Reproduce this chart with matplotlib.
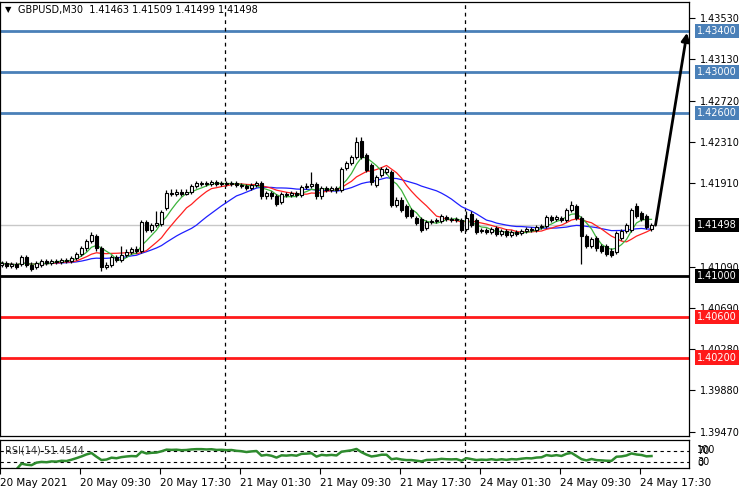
import numpy as np
import pandas as pd
import matplotlib as mpl
mpl.use('Agg')
import matplotlib.pyplot as plt
import matplotlib.transforms as mtransforms

# GBPUSD M30 bars, 20 May 01:30 -> 24 May 18:30
opens = [1.4111, 1.4113, 1.4110, 1.4112, 1.4112, 1.4119, 1.4111, 1.4109, 1.4111, 1.4115,
         1.4113, 1.4115, 1.4114, 1.4116, 1.4115, 1.4118, 1.4122, 1.4127, 1.4134, 1.4139,
         1.4127, 1.4109, 1.4111, 1.4119, 1.4116, 1.4121, 1.4124, 1.4126, 1.4125, 1.4153,
         1.4145, 1.4150, 1.4151, 1.4167, 1.4181, 1.4180, 1.4182, 1.4180, 1.4182, 1.4188,
         1.4190, 1.4191, 1.4190, 1.4192, 1.4190, 1.4191, 1.4190, 1.4191, 1.4189, 1.4188,
         1.4186, 1.4189, 1.4191, 1.4178, 1.4181, 1.4178, 1.4173, 1.4180, 1.4179, 1.4181,
         1.4179, 1.4187, 1.4188, 1.4190, 1.4178, 1.4186, 1.4184, 1.4186, 1.4184, 1.4206,
         1.4211, 1.4217, 1.4232, 1.4219, 1.4209, 1.4189, 1.4199, 1.4202, 1.4202, 1.4170,
         1.4175, 1.4169, 1.4165, 1.4157, 1.4156, 1.4147, 1.4153, 1.4154, 1.4154, 1.4158,
         1.4156, 1.4155, 1.4155, 1.4146, 1.4161, 1.4155, 1.4144, 1.4145, 1.4143, 1.4147,
         1.4141, 1.4144, 1.4140, 1.4143, 1.4142, 1.4144, 1.4146, 1.4145, 1.4148, 1.4149,
         1.4158, 1.4156, 1.4157, 1.4155, 1.4165, 1.4169, 1.4157, 1.4139, 1.4129, 1.4137,
         1.4129, 1.4129, 1.4125, 1.4124, 1.4137, 1.4144, 1.4145, 1.4169, 1.4162, 1.4159,
         1.4146]
highs = [1.4115, 1.4115, 1.4114, 1.4114, 1.4121, 1.4121, 1.4114, 1.4115, 1.4117, 1.4117,
         1.4117, 1.4117, 1.4118, 1.4118, 1.4120, 1.4124, 1.4129, 1.4136, 1.4143, 1.4141,
         1.4129, 1.4114, 1.4121, 1.4121, 1.4129, 1.4126, 1.4128, 1.4129, 1.4155, 1.4155,
         1.4152, 1.4164, 1.4165, 1.4184, 1.4185, 1.4185, 1.4185, 1.4185, 1.4190, 1.4193,
         1.4193, 1.4193, 1.4194, 1.4194, 1.4193, 1.4193, 1.4193, 1.4193, 1.4191, 1.4190,
         1.4191, 1.4193, 1.4193, 1.4183, 1.4183, 1.4180, 1.4182, 1.4182, 1.4183, 1.4183,
         1.4189, 1.4191, 1.4202, 1.4192, 1.4188, 1.4188, 1.4188, 1.4188, 1.4207, 1.4213,
         1.4219, 1.4236, 1.4236, 1.4221, 1.4211, 1.4199, 1.4207, 1.4207, 1.4204, 1.4177,
         1.4177, 1.4171, 1.4167, 1.4159, 1.4158, 1.4155, 1.4156, 1.4157, 1.4161, 1.4160,
         1.4158, 1.4158, 1.4157, 1.4164, 1.4164, 1.4157, 1.4147, 1.4147, 1.4148, 1.4149,
         1.4146, 1.4146, 1.4145, 1.4145, 1.4146, 1.4148, 1.4148, 1.4150, 1.4151, 1.4160,
         1.4160, 1.4160, 1.4159, 1.4167, 1.4174, 1.4171, 1.4159, 1.4141, 1.4138, 1.4139,
         1.4131, 1.4131, 1.4127, 1.4144, 1.4146, 1.4152, 1.4167, 1.4172, 1.4164, 1.4161,
         1.4152]
lows = [1.4109, 1.4108, 1.4108, 1.4107, 1.4110, 1.4109, 1.4105, 1.4107, 1.4109, 1.4111,
        1.4111, 1.4112, 1.4112, 1.4113, 1.4113, 1.4116, 1.4120, 1.4125, 1.4132, 1.4125,
        1.4105, 1.4107, 1.4109, 1.4114, 1.4114, 1.4119, 1.4122, 1.4123, 1.4123, 1.4143,
        1.4143, 1.4148, 1.4149, 1.4165, 1.4178, 1.4178, 1.4178, 1.4179, 1.4180, 1.4186,
        1.4188, 1.4188, 1.4188, 1.4188, 1.4188, 1.4188, 1.4188, 1.4187, 1.4186, 1.4184,
        1.4184, 1.4187, 1.4176, 1.4176, 1.4176, 1.4169, 1.4171, 1.4177, 1.4177, 1.4177,
        1.4177, 1.4185, 1.4186, 1.4176, 1.4176, 1.4182, 1.4182, 1.4181, 1.4182, 1.4204,
        1.4209, 1.4215, 1.4215, 1.4202, 1.4189, 1.4187, 1.4197, 1.4200, 1.4168, 1.4168,
        1.4163, 1.4157, 1.4157, 1.4150, 1.4143, 1.4145, 1.4151, 1.4152, 1.4152, 1.4154,
        1.4153, 1.4153, 1.4143, 1.4144, 1.4148, 1.4141, 1.4142, 1.4141, 1.4141, 1.4139,
        1.4139, 1.4138, 1.4138, 1.4139, 1.4140, 1.4142, 1.4143, 1.4143, 1.4146, 1.4147,
        1.4153, 1.4154, 1.4153, 1.4153, 1.4163, 1.4155, 1.4112, 1.4127, 1.4127, 1.4125,
        1.4123, 1.4120, 1.4119, 1.4122, 1.4135, 1.4142, 1.4143, 1.4157, 1.4154, 1.4146,
        1.4144]
closes = [1.4113, 1.4110, 1.4112, 1.4109, 1.4119, 1.4111, 1.4107, 1.4113, 1.4115, 1.4113,
          1.4115, 1.4114, 1.4116, 1.4115, 1.4118, 1.4122, 1.4127, 1.4134, 1.4140, 1.4127,
          1.4109, 1.4111, 1.4119, 1.4116, 1.4121, 1.4124, 1.4126, 1.4125, 1.4153, 1.4145,
          1.4150, 1.4152, 1.4163, 1.4181, 1.4180, 1.4182, 1.4180, 1.4182, 1.4188, 1.4191,
          1.4191, 1.4190, 1.4192, 1.4190, 1.4191, 1.4190, 1.4191, 1.4189, 1.4188, 1.4186,
          1.4189, 1.4191, 1.4178, 1.4181, 1.4178, 1.4171, 1.4180, 1.4179, 1.4181, 1.4179,
          1.4187, 1.4188, 1.4190, 1.4178, 1.4186, 1.4184, 1.4186, 1.4184, 1.4205, 1.4211,
          1.4217, 1.4231, 1.4217, 1.4204, 1.4192, 1.4197, 1.4205, 1.4205, 1.4170, 1.4175,
          1.4165, 1.4159, 1.4159, 1.4152, 1.4145, 1.4153, 1.4154, 1.4155, 1.4159, 1.4156,
          1.4155, 1.4156, 1.4145, 1.4157, 1.4150, 1.4143, 1.4145, 1.4143, 1.4146, 1.4141,
          1.4144, 1.4140, 1.4143, 1.4141, 1.4144, 1.4146, 1.4145, 1.4148, 1.4149, 1.4158,
          1.4155, 1.4158, 1.4155, 1.4165, 1.4170, 1.4157, 1.4139, 1.4129, 1.4136, 1.4127,
          1.4125, 1.4122, 1.4121, 1.4142, 1.4144, 1.4150, 1.4165, 1.4159, 1.4156, 1.4148,
          1.41498]

time_labels = ['20 May 2021', '20 May 09:30', '20 May 17:30', '21 May 01:30', '21 May 09:30',
               '21 May 17:30', '24 May 01:30', '24 May 09:30', '24 May 17:30']
time_bars = [0, 16, 32, 48, 64, 80, 96, 112, 128]
day_breaks = [45, 93]

price_ticks = [1.43530, 1.43130, 1.42720, 1.42310, 1.41910, 1.41090,
               1.40690, 1.40280, 1.39880, 1.39470]
blue_levels = [1.43400, 1.43000, 1.42600]
black_levels = [1.41000]
red_levels = [1.40600, 1.40200]
last_price = 1.41498
header = 'GBPUSD,M30  1.41463 1.41509 1.41499 1.41498'
rsi_text = 'RSI(14) 51.4544'

c = pd.Series(closes)
ma_fast = c.rolling(5, min_periods=1).mean()
ma_mid = c.rolling(10, min_periods=1).mean()
ma_slow = c.rolling(20, min_periods=1).mean()
delta = c.diff()
up = delta.clip(lower=0).ewm(alpha=1/14, adjust=False).mean()
dn = (-delta.clip(upper=0)).ewm(alpha=1/14, adjust=False).mean()
rsi = 100 - 100 / (1 + up / dn)

W, H = 749, 496
fig = plt.figure(figsize=(W/100, H/100), dpi=100)
ax = fig.add_axes([0, 60/H, 689/W, 434/H])
rx = fig.add_axes([0, 28/H, 689/W, 28/H])

xs = np.arange(len(closes))
xlim = (-0.3, 137.5)
blue = '#4a80b8'
red = '#ff1a1a'

# levels and current price line
ax.axhline(last_price, color='#c8c8c8', lw=1, zorder=1)
for lv in blue_levels:
    ax.axhline(lv, color=blue, lw=2, zorder=1)
for lv in black_levels:
    ax.axhline(lv, color='black', lw=2, zorder=1)
for lv in red_levels:
    ax.axhline(lv, color=red, lw=2, zorder=1)
for b in day_breaks:
    ax.axvline(b - 0.3, color='black', lw=0.9, ls=(0, (3, 3)), zorder=1)
    rx.axvline(b - 0.3, color='black', lw=0.9, ls=(0, (3, 3)), zorder=1)

# moving averages
ax.plot(xs, ma_slow, color='#1f1fff', lw=0.9, zorder=2)
ax.plot(xs, ma_mid, color='#ff2020', lw=0.9, zorder=2)
ax.plot(xs, ma_fast, color='#3cb43c', lw=0.9, zorder=2)

# candles
o = np.array(opens); h = np.array(highs); l = np.array(lows); cl = np.array(closes)
ax.vlines(xs, l, h, color='black', lw=0.9, zorder=3)
bull = cl >= o
ax.bar(xs[bull], (cl - o)[bull], bottom=o[bull], width=0.6, color='white',
       edgecolor='black', lw=0.8, zorder=4)
ax.bar(xs[~bull], (o - cl)[~bull], bottom=cl[~bull], width=0.6, color='black',
       edgecolor='black', lw=0.8, zorder=4)

# projection arrow
ax.annotate('', xy=(137.1, 1.43385), xytext=(xs[-1] + 0.8, last_price),
            arrowprops=dict(arrowstyle='-|>', color='black', lw=2, mutation_scale=12,
                            shrinkA=0, shrinkB=0),
            annotation_clip=False, zorder=6)

ax.set_xlim(*xlim)
ax.set_ylim(1.39431, 1.43687)
ax.set_xticks([])
ax.yaxis.tick_right()
ax.set_yticks(price_ticks)
ax.set_yticklabels(['%.5f' % t for t in price_ticks])
ax.tick_params(axis='y', length=4, width=0.8, pad=4, labelsize=7, colors='black')

# right-side boxed labels
tr = mtransforms.blended_transform_factory(ax.transAxes, ax.transData)
def tag(y, fc):
    ax.text(1.0115, y, '%.5f' % y, transform=tr, fontsize=7, color='white',
            va='center', ha='left', clip_on=False, zorder=7,
            bbox=dict(boxstyle='square,pad=0.22', fc=fc, ec='none'))
for lv in blue_levels:
    tag(lv, blue)
for lv in black_levels:
    tag(lv, 'black')
for lv in red_levels:
    tag(lv, red)
tag(last_price, 'black')

for a in (ax, rx):
    for s in a.spines.values():
        s.set_linewidth(0.9)
        s.set_color('black')

# RSI panel
rx.axhline(70, color='black', lw=0.8, ls=(0, (3, 3)))
rx.axhline(30, color='black', lw=0.8, ls=(0, (3, 3)))
rx.plot(xs, rsi, color='#2e8b2e', lw=1.8)
rx.set_xlim(*xlim)
rx.set_ylim(9, 108)
rx.set_yticks([])
rx.set_xticks([b - 0.3 for b in time_bars])
rx.set_xticklabels(time_labels, ha='left')
rx.tick_params(axis='x', length=4, width=0.8, pad=3, labelsize=7.5)
rx.text(0.007, 70, rsi_text, transform=mtransforms.blended_transform_factory(rx.transAxes, rx.transData),
        fontsize=7, color='#333333', va='center', ha='left')
rtr = mtransforms.blended_transform_factory(rx.transAxes, rx.transData)
for txt, yy in [('100', 74), ('70', 70), ('30', 30), ('0', 28)]:
    rx.text(1.012, yy, txt, transform=rtr, fontsize=7, va='center', ha='left', clip_on=False)

fig.text(5/W, 1 - 10/H, '\u25bc', fontsize=6, va='center', ha='left')
fig.text(18/W, 1 - 10/H, header, fontsize=7, va='center', ha='left')

fig.savefig('out.png', dpi=100)
